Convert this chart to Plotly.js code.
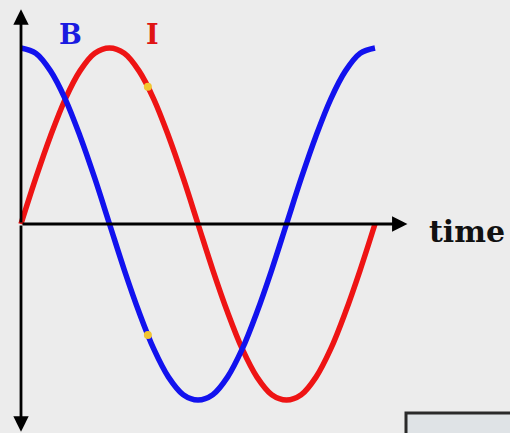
<!DOCTYPE html>
<html>
<head>
<meta charset="utf-8">
<script src="https://cdn.plot.ly/plotly-3.0.1.min.js"></script>
<style>html,body{margin:0;padding:0;background:#ececec;}#chart{width:510px;height:433px;}</style>
</head>
<body>
<div id="chart"></div>
<script>
// phase (degrees) sampled along one period
const phase = [0,15,30,45,60,75,90,105,120,135,150,165,180,195,210,225,240,255,270,285,300,315,330,345,360];
// B (blue) values
const bValues = [1,0.97,0.87,0.71,0.5,0.26,0,-0.26,-0.5,-0.71,-0.87,-0.97,-1,-0.97,-0.87,-0.71,-0.5,-0.26,0,0.26,0.5,0.71,0.87,0.97,1];
// I (red) values
const iValues = [0,0.26,0.5,0.71,0.87,0.97,1,0.97,0.87,0.71,0.5,0.26,0,-0.26,-0.5,-0.71,-0.87,-0.97,-1,-0.97,-0.87,-0.71,-0.5,-0.26,0];
// yellow highlight points
const markPhase = [129, 129];
const markValues = [0.78, -0.63];
const labels = {b: 'B', i: 'I', t: 'time'};

const traces = [
  {x: phase, y: iValues, mode: 'lines', line: {color: '#ee1414', width: 5.5, shape: 'spline'}, hoverinfo: 'skip'},
  {x: phase, y: bValues, mode: 'lines', line: {color: '#1212ee', width: 5.5, shape: 'spline'}, hoverinfo: 'skip'},
  {x: markPhase, y: markValues, mode: 'markers', marker: {color: '#f2c530', size: 8}, hoverinfo: 'skip'}
];

const layout = {
  width: 510, height: 433,
  margin: {l: 0, r: 0, t: 0, b: 0},
  paper_bgcolor: '#ececec', plot_bgcolor: '#ececec',
  showlegend: false,
  xaxis: {range: [-21.36, 497.3], visible: false, fixedrange: true},
  yaxis: {range: [-1.1875, 1.2727], visible: false, fixedrange: true},
  shapes: [
    {type: 'rect', xref: 'paper', yref: 'paper', x0: 406/510, x1: 1.02, y0: -0.02, y1: 1 - 413/433,
     line: {color: '#2a2a2a', width: 3}, fillcolor: '#dfe3e6'}
  ],
  annotations: [
    // horizontal axis
    {xref: 'x', yref: 'y', axref: 'x', ayref: 'y', x: 393, y: 0, ax: 0, ay: 0, text: '', showarrow: true,
     arrowhead: 2, arrowsize: 1.1, arrowwidth: 2.8, arrowcolor: '#000'},
    // vertical axis up
    {xref: 'x', yref: 'y', axref: 'x', ayref: 'y', x: 0, y: 1.22, ax: 0, ay: 0, text: '', showarrow: true,
     arrowhead: 2, arrowsize: 1.1, arrowwidth: 2.8, arrowcolor: '#000'},
    // vertical axis down
    {xref: 'x', yref: 'y', axref: 'x', ayref: 'y', x: 0, y: -1.18, ax: 0, ay: 0, text: '', showarrow: true,
     arrowhead: 2, arrowsize: 1.1, arrowwidth: 2.8, arrowcolor: '#000'},
    {xref: 'paper', yref: 'paper', x: 70/510, y: 1 - 35/433, xanchor: 'center', yanchor: 'middle', showarrow: false,
     text: '<b>' + labels.b + '</b>', font: {family: 'DejaVu Serif', size: 27, color: '#1a1ae0'}},
    {xref: 'paper', yref: 'paper', x: 152/510, y: 1 - 35/433, xanchor: 'center', yanchor: 'middle', showarrow: false,
     text: '<b>' + labels.i + '</b>', font: {family: 'DejaVu Serif', size: 27, color: '#e01414'}},
    {xref: 'paper', yref: 'paper', x: 467/510, y: 1 - 231/433, xanchor: 'center', yanchor: 'middle', showarrow: false,
     text: '<b>' + labels.t + '</b>', font: {family: 'DejaVu Serif', size: 30, color: '#111'}}
  ]
};

Plotly.newPlot('chart', traces, layout, {displayModeBar: false, staticPlot: true});
</script>
</body>
</html>
